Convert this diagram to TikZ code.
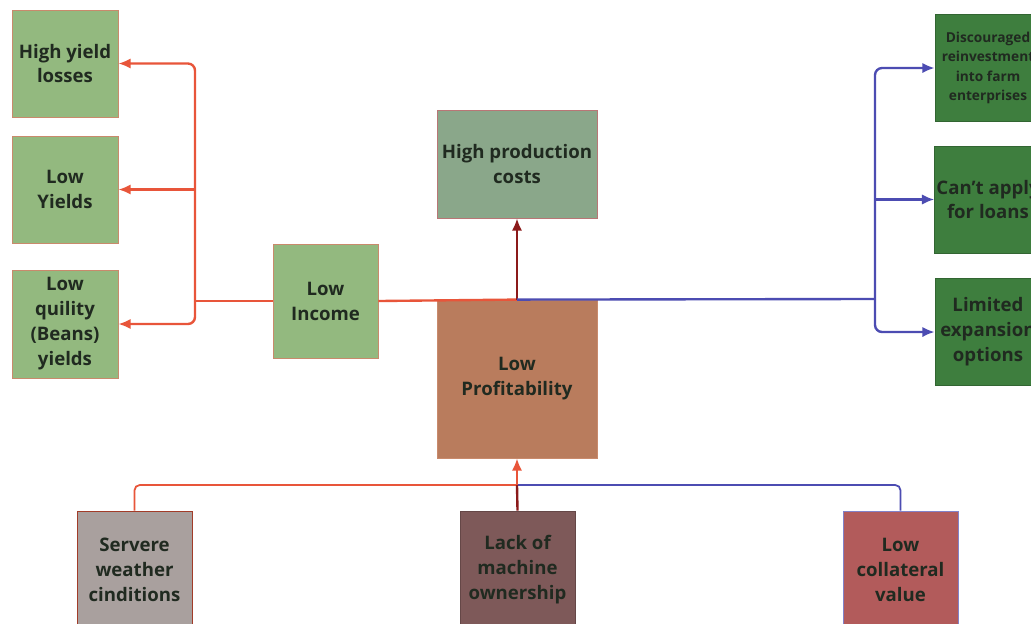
\documentclass[tikz,border=0pt]{standalone}
\usepackage{fontspec}
\setmainfont{Open Sans}
\usetikzlibrary{arrows.meta,positioning}
\definecolor{leaf}{HTML}{93B97F}
\definecolor{sage}{HTML}{8AA78A}
\definecolor{clay}{HTML}{B97C5D}
\definecolor{forest}{HTML}{3E7E3E}
\definecolor{stone}{HTML}{A9A09E}
\definecolor{plum}{HTML}{7E5959}
\definecolor{rust}{HTML}{B25B5B}
\definecolor{rim}{HTML}{C98A6C}
\definecolor{ink}{HTML}{202A20}
\definecolor{redlink}{HTML}{E8553A}
\definecolor{bluelink}{HTML}{4C4CB2}
\definecolor{darklink}{HTML}{8B1A1A}

\tikzset{
  box/.style={draw=rim, line width=0.5pt, text=ink, align=center,
    font=\bfseries\fontsize{10.6}{14.2}\selectfont, inner sep=1pt},
  small/.style={minimum width=2.12cm, minimum height=2.14cm},
  wide/.style={minimum width=3.2cm},
  tall/.style={minimum width=2.3cm, minimum height=2.36cm},
  redline/.style={draw=redlink, line width=1.35pt},
  blueline/.style={draw=bluelink, line width=1.35pt},
  darkline/.style={draw=darklink, line width=1.35pt},
  tip/.style={-{Latex[length=7pt,width=6pt]}}
}

\begin{document}
\begin{tikzpicture}[x=0.02cm, y=-0.02cm]
  \clip (0,0) rectangle (1031,623);
  \fill[white] (0,0) rectangle (1031,623);

  % effects of low income
  \node[box, small, fill=leaf] (loss) at (65,63.5) {High yield\\losses};
  \node[box, small, fill=leaf] (yields) at (65,189.5) {Low\\Yields};
  \node[box, small, fill=leaf, minimum height=2.16cm] (quality) at (65,324) {Low\\quility\\(Beans)\\yields};
  \node[box, fill=leaf, minimum width=2.1cm, minimum height=2.28cm] (income) at (325.5,301) {Low\\Income};

  % centre
  \node[box, wide, minimum height=2.16cm, fill=sage, draw=darklink!60] (costs) at (517,164) {High production\\costs};
  \node[box, wide, minimum height=3.16cm, fill=clay] (profit) at (517,379) {Low\\Profitability};

  % effects on the right
  \node[box, small, fill=forest, draw=forest!80!black,
    font=\bfseries\fontsize{7.8}{11}\selectfont] (reinvest) at (988,68)
    {Discouraged\\reinvestment\\into farm\\enterprises};
  \node[box, small, fill=forest, draw=forest!80!black] (loans) at (988,199.5) {Can't apply\\for loans};
  \node[box, small, fill=forest, draw=forest!80!black] (expand) at (988,332) {Limited\\expansion\\options};

  % causes
  \node[box, tall, fill=stone, draw=redlink!70!black] (weather) at (134.5,570) {Servere\\weather\\cinditions};
  \node[box, tall, fill=plum, draw=plum!80!black] (machine) at (517.5,570) {Lack of\\machine\\ownership};
  \node[box, tall, fill=rust, draw=bluelink!70] (collateral) at (900.5,570) {Low\\collateral\\value};

  \coordinate (lbar) at (195,301);
  \coordinate (rbar) at (875,299);
  \coordinate (bj) at (517,485);

  % left branches
  \draw[redline] (income.west) -- (lbar);
  \draw[redline, tip, rounded corners=4pt] (lbar) |- (loss.east);
  \draw[redline, tip] (lbar |- yields.east) -- (yields.east);
  \draw[redline, tip, rounded corners=4pt] (lbar) |- (quality.east);
  \draw[redline] (income.east) -- (profit.north);

  % up to costs
  \draw[darkline, tip] (profit.north) -- (costs.south);

  % right branches
  \draw[blueline] (profit.north) -- (rbar);
  \draw[blueline, tip, rounded corners=4pt] (rbar) |- (reinvest.west);
  \draw[blueline, tip] (rbar |- loans.west) -- (loans.west);
  \draw[blueline, tip, rounded corners=4pt] (rbar) |- (expand.west);

  % causes into profitability
  \draw[redline, line width=1pt, rounded corners=3pt] (weather.north) |- (bj);
  \draw[blueline, line width=1pt, rounded corners=3pt] (collateral.north) |- (bj);
  \draw[darkline] (machine.north) -- (bj);
  \draw[redline, tip] (bj) -- (profit.south);
\end{tikzpicture}
\end{document}
